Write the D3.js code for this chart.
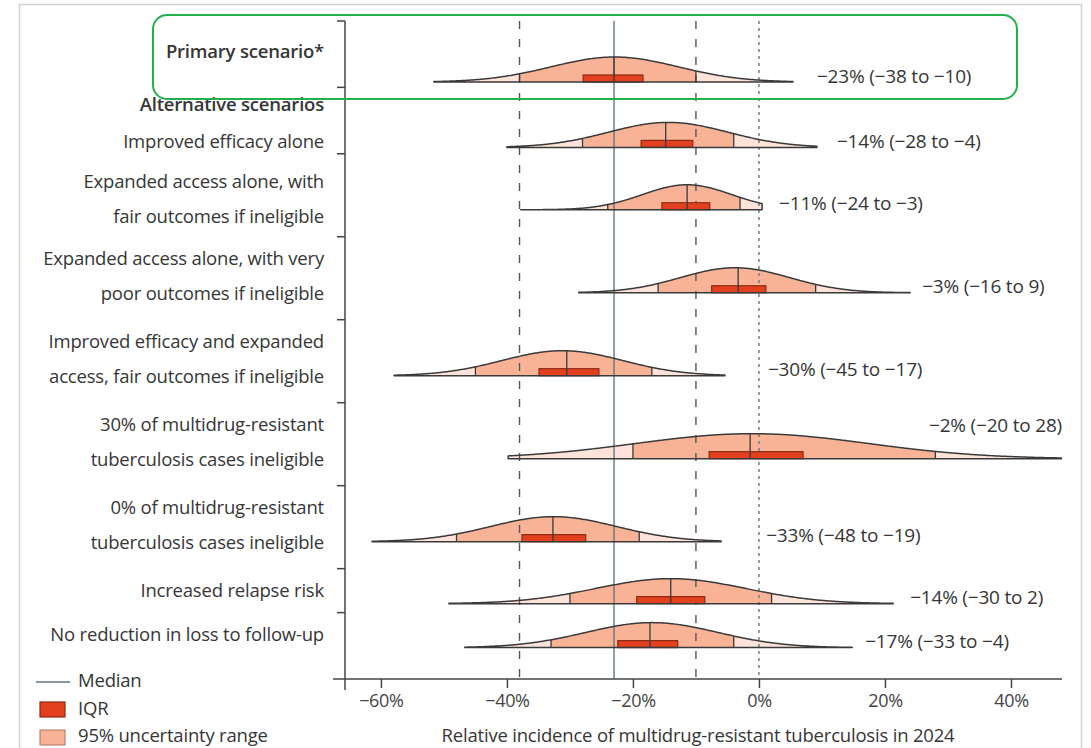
<!DOCTYPE html>
<html>
<head>
<meta charset="utf-8">
<title>Relative incidence of MDR tuberculosis in 2024</title>
<script src="https://cdn.jsdelivr.net/npm/d3@7"></script>
<style>
    body { margin:0; background:#fff; }
    svg text { font-family:'Open Sans', 'Noto Sans', sans-serif; fill:#363636; }
    .lbl { font-size:18.5px; letter-spacing:-0.2px; }
    .val { font-size:19px; letter-spacing:-0.2px; }
    .tick text { font-size:18px; fill:#444; letter-spacing:-0.3px; }
</style>
</head>
<body>
<svg id="chart" width="1091" height="748"></svg>
<script>
// scenario labels (| = line break), the first alternative row carries the group header
const scenarios = [
    "Primary scenario*",
    "Improved efficacy alone",
    "Expanded access alone, with|fair outcomes if ineligible",
    "Expanded access alone, with very|poor outcomes if ineligible",
    "Improved efficacy and expanded|access, fair outcomes if ineligible",
    "30% of multidrug-resistant|tuberculosis cases ineligible",
    "0% of multidrug-resistant|tuberculosis cases ineligible",
    "Increased relapse risk",
    "No reduction in loss to follow-up"
];
const groupHeader = "Alternative scenarios";

// reported values (%)
const reportedMedian = [-23, -14, -11, -3, -30, -2, -33, -14, -17];
const ui95Lo = [-38, -28, -24, -16, -45, -20, -48, -30, -33];
const ui95Hi = [-10, -4, -3, 9, -17, 28, -19, 2, -4];

// values (%)
const medians = [-23.0, -14.8, -11.4, -3.3, -30.5, -1.4, -32.7, -14.0, -17.3];
const iqrLo = [-27.9, -18.7, -15.4, -7.5, -34.9, -7.9, -37.6, -19.4, -22.4];
const iqrHi = [-18.4, -10.5, -7.8, 1.1, -25.4, 7.0, -27.5, -8.6, -12.9];
const tailMin = [-51.6, -40.0, -37.8, -28.6, -57.9, -39.8, -61.4, -49.2, -46.7];
const tailMax = [5.4, 9.2, 0.5, 24.0, -5.4, 48.0, -6.0, 21.3, 14.8];
// fitted normal curve drawn over each scenario
const fitMean = [-22.9, -14.4, -11.4, -3.8, -31.2, -1.1, -32.6, -14.0, -17.0];
const fitSd = [10.1, 9.5, 7.1, 8.65, 9.6, 18.5, 10.0, 11.9, 10.5];

// reference lines: primary scenario 95% UI, median, and zero
const refLines = [
    {v: -38, kind: "dash"},
    {v: -23, kind: "solid"},
    {v: -10, kind: "dash"},
    {v: 0, kind: "dot"}
];
const xTicks = [-60, -40, -20, 0, 20, 40];

// layout
const rowSpan = [1.6, 1.6, 2, 2, 2, 2, 2, 1.06, 1.6];   // band height, in text lines
const labelGap = [24, 20, 17, 12, 43, 0, 45, 17, 13];
const peakH = 25;

const svg = d3.select("#chart");
const col = {
    light: "#fde3d9",
    mid: "#f8b397",
    iqr: "#e2401f",
    iqrStroke: "#8a2a14",
    ink: "#3a3a3a",
    slate: "#5f7883"
};

const x = d3.scaleLinear().domain([-65.7, 48.1]).range([345, 1062]);
const cum = [0];
rowSpan.forEach(s => cum.push(cum[cum.length - 1] + s));
const yU = d3.scaleLinear().domain([0, cum[cum.length - 1]]).range([21, 679]);

// frame
svg.append("rect").attr("x", 19.5).attr("y", 4.5).attr("width", 1062).attr("height", 770)
    .attr("fill", "none").attr("stroke", "#d2d2d2").attr("stroke-width", 1.5);

const rows = scenarios.map((s, i) => {
    const top = yU(cum[i]);
    const lines = s.split("|");
    let base, lineY;
    if (i === 0) {
        base = top + 61;
        lineY = [(top + base) / 2];
    } else if (i === 1) {
        base = top + 60;
        lineY = [top + 17, top + 54];
    } else {
        base = top + (lines.length > 1 ? 56 : 35);
        const first = i === 2 ? 28 : 22;
        lineY = lines.map((l, k) => top + first + 35 * k);
    }
    return {i, top, lines, base, lineY};
});

// reference lines sit above the fills
const refG = svg.append("g");

// distributions: tails and 95% range
rows.forEach(r => {
    const i = r.i;
    const g = svg.append("g");
    const xs = d3.range(tailMin[i], tailMax[i], 0.2).concat([tailMax[i]]);
    const dens = v => Math.exp(-0.5 * Math.pow((v - fitMean[i]) / fitSd[i], 2));
    const pts = xs.map(v => [v, dens(v)]);
    const area = d3.area()
        .x(d => x(d[0]))
        .y0(r.base)
        .y1(d => r.base - peakH * d[1]);

    g.append("path").datum(pts).attr("d", area).attr("fill", col.light);
    const inner = pts.filter(d => d[0] >= ui95Lo[i] && d[0] <= ui95Hi[i]);
    inner.unshift([ui95Lo[i], dens(ui95Lo[i])]);
    inner.push([ui95Hi[i], dens(ui95Hi[i])]);
    g.append("path").datum(inner).attr("d", area).attr("fill", col.mid);
    r.pts = pts; r.area = area; r.dens = dens;
});

refG.raise();
refLines.forEach(l => {
    const ln = refG.append("line")
        .attr("x1", x(l.v)).attr("x2", x(l.v))
        .attr("y1", 21).attr("y2", 679)
        .attr("stroke-width", 1.4);
    if (l.kind === "dash") ln.attr("stroke", "#555").attr("stroke-dasharray", "8,10");
    else if (l.kind === "dot") ln.attr("stroke", col.slate).attr("stroke-dasharray", "3,4");
    else ln.attr("stroke", col.slate);
});

const fmt = v => (v < 0 ? "\u2212" : "") + Math.abs(v);

rows.forEach(r => {
    const i = r.i;
    const g = svg.append("g");
    // IQR box
    g.append("rect")
        .attr("x", x(iqrLo[i])).attr("y", r.base - 7)
        .attr("width", x(iqrHi[i]) - x(iqrLo[i])).attr("height", 7)
        .attr("fill", col.iqr).attr("stroke", col.iqrStroke).attr("stroke-width", 1.2);
    // 95% bounds and median
    [ui95Lo[i], ui95Hi[i], medians[i]].forEach(v => {
        g.append("line")
            .attr("x1", x(v)).attr("x2", x(v))
            .attr("y1", r.base).attr("y2", r.base - peakH * r.dens(v))
            .attr("stroke", col.ink).attr("stroke-width", 1.3);
    });
    // outline
    g.append("path").datum(r.pts).attr("d", r.area)
        .attr("fill", "none").attr("stroke", col.ink).attr("stroke-width", 1.5)
        .attr("stroke-linejoin", "round");

    // value label
    const txt = `${fmt(reportedMedian[i])}% (${fmt(ui95Lo[i])} to ${fmt(ui95Hi[i])})`;
    const t = svg.append("text").attr("class", "val").attr("dy", "0.35em").text(txt);
    if (x(tailMax[i]) > 1050) {
        t.attr("x", 1062).attr("y", r.base - 33).attr("text-anchor", "end");
    } else {
        t.attr("x", x(tailMax[i]) + labelGap[i]).attr("y", r.base - 6);
    }

    // scenario label
    r.lines.forEach((l, k) => {
        const ly = i === 1 ? r.lineY[1] : r.lineY[k];
        svg.append("text").attr("class", "lbl")
            .attr("x", 324).attr("y", ly).attr("dy", "0.35em")
            .attr("text-anchor", "end")
            .style("font-weight", i === 0 ? "600" : null)
            .text(l);
    });
    if (i === 1) {
        svg.append("text").attr("class", "lbl")
            .attr("x", 324).attr("y", r.lineY[0]).attr("dy", "0.35em")
            .attr("text-anchor", "end").style("font-weight", "600")
            .text(groupHeader);
    }
});

// y axis with separators between scenarios
svg.append("line").attr("x1", 345).attr("x2", 345).attr("y1", 21).attr("y2", 690)
    .attr("stroke", "#444").attr("stroke-width", 1.5);
svg.selectAll(".ytick").data(cum.slice(0, -1)).join("line")
    .attr("class", "ytick")
    .attr("x1", 337).attr("x2", 345)
    .attr("y1", d => yU(d)).attr("y2", d => yU(d))
    .attr("stroke", "#444").attr("stroke-width", 1.5);

// x axis
const xAxis = svg.append("g")
    .attr("transform", "translate(0,679)")
    .call(d3.axisBottom(x).tickValues(xTicks).tickSize(9).tickPadding(6)
        .tickFormat(d => fmt(d) + "%"));
xAxis.select(".domain").remove();
xAxis.selectAll(".tick line").attr("stroke", "#444").attr("stroke-width", 1.5);
xAxis.selectAll(".tick text").attr("font-family", null).attr("font-size", null);
svg.append("line").attr("x1", 333).attr("x2", 1062).attr("y1", 679).attr("y2", 679)
    .attr("stroke", "#444").attr("stroke-width", 1.5);

svg.append("text").attr("class", "lbl")
    .attr("x", 698).attr("y", 736).attr("dy", "0.35em").attr("text-anchor", "middle")
    .text("Relative incidence of multidrug-resistant tuberculosis in 2024");

// legend
const lg = svg.append("g");
lg.append("line").attr("x1", 36).attr("x2", 70).attr("y1", 682).attr("y2", 682)
    .attr("stroke", col.slate).attr("stroke-width", 1.5);
lg.append("rect").attr("x", 40).attr("y", 702).attr("width", 25).attr("height", 15)
    .attr("fill", col.iqr).attr("stroke", col.iqrStroke).attr("stroke-width", 1.2);
lg.append("rect").attr("x", 40).attr("y", 730).attr("width", 25).attr("height", 15)
    .attr("fill", col.mid).attr("stroke", "#b07060").attr("stroke-width", 1);
[["Median", 681], ["IQR", 709], ["95% uncertainty range", 736]].forEach(d => {
    lg.append("text").attr("class", "lbl").attr("x", 78).attr("y", d[1]).attr("dy", "0.35em").text(d[0]);
});

// highlight around the primary scenario
svg.append("rect")
    .attr("x", 153).attr("y", rows[0].top - 6)
    .attr("width", 864).attr("height", rows[0].base - rows[0].top + 23)
    .attr("rx", 14)
    .attr("fill", "none").attr("stroke", "#22b04b").attr("stroke-width", 2);
</script>
</body>
</html>
